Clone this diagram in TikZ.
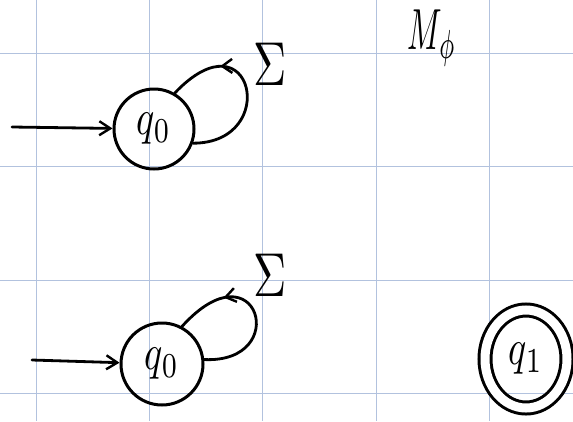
\documentclass[tikz,border=0pt]{standalone}
\usepackage{tikz}
\usepackage{graphicx}
\usetikzlibrary{arrows.meta, shapes.geometric, decorations.markings}

\definecolor{gridblue}{RGB}{178,194,222}
\newcommand{\hand}[3]{\scalebox{#1}[#2]{$#3$}}

\begin{document}
\begin{tikzpicture}[
    x=1pt, y=1pt,
    state/.style={circle, draw, line width=3pt, minimum size=80pt, inner sep=0pt},
    accept/.style={ellipse, draw, double, double distance=9pt, line width=3pt, minimum width=82pt, minimum height=98pt, inner sep=0pt},
    pen/.style={line width=2.8pt, line cap=round},
    start/.style={pen, -{Straight Barb[length=11pt, width=14pt, line width=2.4pt]}},
    selfloop/.style={pen, decoration={markings, mark=at position 0.7 with {\arrow{Straight Barb[length=10pt, width=14pt, line width=2.4pt]}}}, postaction={decorate}},
]

\useasboundingbox (0,0) rectangle (573,-421);
\fill[white] (0,0) rectangle (573,-421);

% grid paper
\foreach \gx in {36, 149.3, 262.7, 376, 489.3}
  \draw[gridblue, line width=1pt] (\gx,0) -- (\gx,-421);
\foreach \gy in {53, 166.5, 280, 393.5}
  \draw[gridblue, line width=1pt] (0,-\gy) -- (573,-\gy);

% title
\node[inner sep=0pt] (title) at (432,-38) {\hand{3.2}{5.8}{M_\phi}};

% first machine
\node[state] (qa) at (154,-129) {\hand{3.8}{5}{q_0}};
\coordinate (ina) at (12,-127);
\draw[start] (ina) -- (qa);
\draw[selfloop] (qa.-20) .. controls +(88,0) and +(78,82) .. (qa.60);
\node (siga) at (270,-64) {\hand{4.6}{6.2}{\Sigma}};

% second machine
\node[state, minimum size=82pt] (qb) at (162,-364) {\hand{3.8}{5}{q_0}};
\coordinate (inb) at (32,-360);
\draw[start] (inb) -- (qb);
\draw[selfloop] (qb.6) .. controls +(88,-4) and +(76,84) .. (qb.62);
\node (sigb) at (270,-275) {\hand{4.6}{6.2}{\Sigma}};

% accepting state
\node[accept] (qc) at (526,-359) {\hand{3.8}{5}{q_1}};

\end{tikzpicture}
\end{document}
